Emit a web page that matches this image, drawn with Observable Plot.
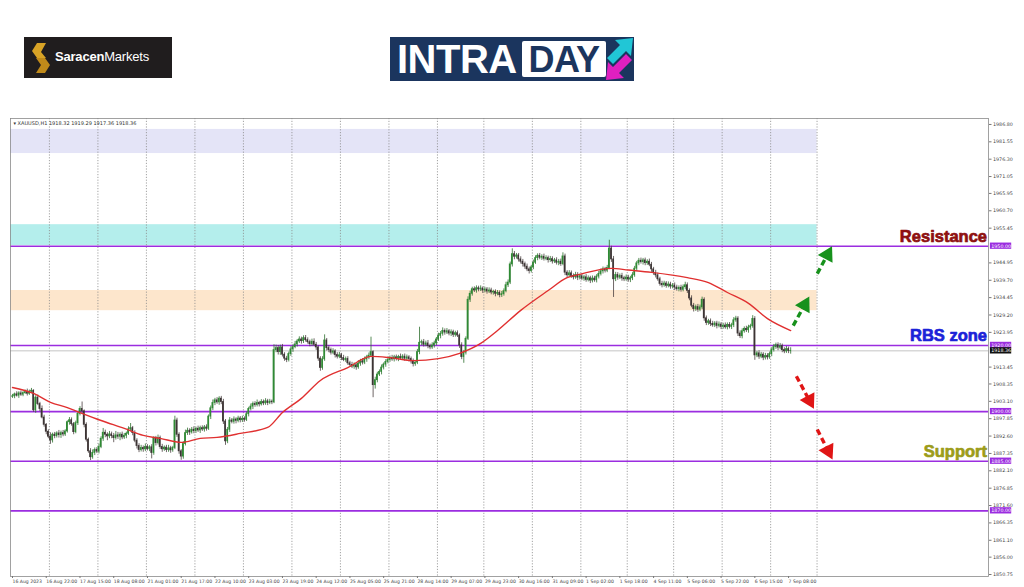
<!DOCTYPE html>
<html><head><meta charset="utf-8">
<script src="https://cdn.jsdelivr.net/npm/d3@7"></script>
<script src="https://cdn.jsdelivr.net/npm/@observablehq/plot@0.6"></script>
<style>
html,body{margin:0;padding:0;background:#fff}
body{width:1024px;height:587px;overflow:hidden;position:relative;font-family:"Liberation Sans",Arial,sans-serif}
#saracen{position:absolute;left:24px;top:37px;width:148px;height:41px;background:#201d1e}
#saracen svg{position:absolute;left:8px;top:6px}
#saracen .t{position:absolute;left:31px;top:12px;color:#fff;font-size:13px;letter-spacing:-0.2px;white-space:nowrap}
#saracen b{font-weight:700}
#intra{position:absolute;left:390px;top:37px;width:244px;height:44px;background:#1b355e;overflow:hidden}
#intra .a{position:absolute;left:7px;top:0px;color:#fff;font-weight:700;font-size:40px;line-height:44px;letter-spacing:-0.5px}
#intra .d{position:absolute;left:132px;top:4px;width:84px;height:36px;background:#fff;border-radius:2px;color:#1b355e;font-weight:700;font-size:36px;line-height:37px;text-align:center;letter-spacing:-0.5px}
#intra svg{position:absolute;left:215px;top:0}
#chart{position:absolute;left:0;top:110px}
</style></head><body>
<div id="saracen"><svg width="18" height="30" viewBox="0 0 18 30"><polygon points="5,0 14,0 9,9 14,15 5,15 0,8" fill="#d8a326"/><polygon points="4,15 13,15 18,22 13,30 4,30 9,22" fill="#c08a1a"/></svg><div class="t"><b>Saracen</b>Markets</div></div>
<div id="intra"><div class="a">INTRA</div><div class="d">DAY</div>
<svg width="29" height="44" viewBox="0 0 29 44"><polygon points="2,21 15,8 10,3 28,1 26,19 21,14 8,27" fill="#21c6d6"/><polygon points="27,23 14,36 19,41 1,43 3,25 8,30 21,17" fill="#e020c0"/></svg></div>
<div id="chart"></div>
<script>
// ---- data ----
const symbol = "XAUUSD,H1";
const firstOpen = 1904.5;
const closes = [
1904.6,1905.2,1904.8,1905.5,1905.1,1905.6,1905.9,1905.4,1906.0,1906.3,
1900.4,1904.2,1902.3,1900.8,1898.2,1896.0,1893.9,1892.4,1891.3,1893.0,
1892.6,1893.4,1892.9,1893.5,1893.1,1894.0,1896.8,1897.4,1896.2,1893.8,
1896.5,1899.3,1900.8,1900.1,1896.0,1891.5,1888.0,1886.2,1887.5,1888.4,
1887.9,1889.3,1891.8,1893.6,1893.0,1892.5,1893.1,1892.6,1892.0,1892.8,
1892.4,1893.0,1892.2,1892.7,1893.3,1894.6,1895.0,1893.5,1891.2,1889.6,
1888.4,1889.0,1888.6,1889.3,1888.7,1889.2,1887.5,1891.8,1890.5,1892.0,
1889.3,1888.6,1889.1,1888.4,1888.9,1888.3,1889.0,1897.3,1893.0,1888.0,
1886.4,1890.2,1893.5,1894.2,1893.7,1894.5,1894.1,1894.8,1894.3,1895.0,
1894.6,1895.2,1894.8,1898.5,1901.0,1902.6,1903.4,1902.8,1903.9,1902.9,
1897.0,1891.0,1894.5,1897.3,1896.9,1897.6,1897.2,1897.9,1897.4,1897.8,
1897.5,1899.2,1900.8,1901.5,1902.3,1902.0,1902.6,1902.2,1902.9,1902.5,
1903.1,1902.6,1903.0,1902.8,1918.6,1919.2,1918.0,1919.4,1917.2,1916.0,
1915.6,1917.4,1918.8,1919.5,1920.3,1921.2,1921.8,1921.3,1922.2,1921.6,
1921.0,1920.4,1921.1,1920.2,1919.4,1916.0,1913.2,1915.8,1921.5,1919.2,
1918.6,1917.8,1918.2,1917.1,1916.6,1917.0,1916.2,1915.6,1915.9,1914.6,
1914.1,1913.6,1914.0,1913.4,1914.5,1915.2,1914.8,1915.8,1916.4,1916.9,
1918.0,1908.0,1909.5,1911.2,1912.0,1913.3,1914.2,1915.0,1915.6,1916.2,
1915.8,1916.4,1916.0,1916.5,1916.1,1916.6,1916.0,1916.4,1915.9,1915.2,
1914.4,1914.8,1918.0,1920.8,1921.0,1920.2,1920.6,1919.8,1919.4,1920.0,
1920.6,1921.8,1922.9,1923.5,1924.4,1923.9,1924.3,1923.6,1924.0,1923.2,
1923.7,1923.0,1920.0,1916.5,1917.8,1922.0,1933.8,1935.6,1937.0,1936.6,
1937.3,1936.9,1937.2,1936.6,1936.9,1936.3,1936.6,1936.0,1936.2,1935.6,
1935.9,1935.2,1935.5,1936.4,1938.2,1939.0,1944.5,1947.6,1946.8,1947.2,
1946.0,1945.3,1944.6,1943.8,1943.0,1942.5,1943.6,1945.0,1946.4,1947.1,
1946.5,1946.8,1946.2,1946.4,1945.8,1946.1,1945.4,1945.7,1945.0,1945.3,
1944.6,1946.9,1942.0,1941.2,1941.8,1941.0,1940.6,1941.3,1940.5,1940.9,
1940.2,1940.6,1939.8,1940.3,1939.6,1940.2,1939.7,1940.8,1941.6,1942.4,
1943.0,1942.6,1943.4,1949.3,1946.0,1940.0,1941.3,1940.5,1941.0,1940.3,
1940.0,1940.5,1939.9,1940.3,1941.2,1943.2,1944.8,1945.6,1945.2,1945.7,
1944.9,1945.3,1944.4,1943.0,1941.9,1941.2,1940.0,1938.6,1938.2,1938.7,
1938.0,1938.4,1937.8,1938.1,1937.5,1937.0,1937.4,1936.8,1937.6,1938.2,
1936.5,1934.2,1932.0,1931.0,1931.6,1930.8,1931.5,1933.8,1928.2,1926.8,
1927.3,1926.5,1926.1,1926.6,1925.9,1926.3,1925.6,1926.0,1925.5,1926.2,
1925.6,1926.1,1927.6,1928.1,1923.6,1922.8,1924.3,1925.0,1924.6,1925.4,
1925.8,1928.0,1917.0,1917.6,1916.6,1917.2,1916.3,1916.8,1916.4,1917.4,
1918.6,1919.5,1920.1,1919.3,1919.8,1918.6,1918.2,1918.9,1918.32,1918.36];
const wickUp = [
.6,.4,.8,.5,.7,.4,.6,.9,.5,.7, .3,.6,.8,.5,.9,.7,.4,.6,1.2,.5, .7,.5,.9,.6,.8,.5,.4,.8,.7,.5,
.6,.5,.7,2.1,.4,.6,.5,.8,.9,.6, .7,.9,.6,1.3,.8,.6,.9,.7,.8,1.2, .9,.6,.8,.7,.5,.8,1.4,.5,.7,.6,
.7,.8,.6,.9,.7,.5,.8,.6,.7,.9, .6,.8,.5,.7,.9,.6,.5,1.3,.7,.6, .5,.7,.9,.8,.6,.7,.9,.5,.8,.6,
.7,.6,.8,.5,.7,.9,.6,.8,.6,.7, .8,.6,.7,.9,.6,.8,.5,.7,.6,.8, .6,.7,.5,.8,.6,.7,.9,.5,.7,.6,
.8,.6,.7,.5,1.6,.9,.8,.7,.9,.6, .7,.6,.8,.7,.9,.6,.8,.7,.7,.8, .7,.6,.8,.9,.7,.5,.6,.8,1.7,.6,
.7,.6,.8,.5,.7,.9,.6,.8,.6,.7, .6,.8,.7,.5,.9,.6,.8,.7,.6,.8, 4.5,.4,.9,.7,.6,.8,.5,.7,.9,.6,
.8,.6,.7,.5,.9,.6,.8,.7,.5,.6, .7,.6,.8,4.7,.6,.8,.7,.9,.6,.8, .7,.6,.8,.7,.9,.6,.8,.5,.7,.6,
.6,.7,.5,.8,.7,.6,.9,.8,.6,.7, .7,.6,.8,.5,.7,.6,.8,.7,.5,.6, .7,.6,.8,.7,.9,.8,.7,1.6,.8,.6,
.6,.8,.7,.6,.8,.7,.6,.8,.7,.6, .7,.6,.8,.7,.6,.8,.7,.6,.8,.7, .8,1.1,.7,.6,.8,.7,.6,.8,.7,.6,
.7,.6,.8,.7,.6,.8,.7,.6,.8,.7, .7,.6,.8,2.5,.7,.9,.8,.7,.6,.8, .6,.8,.7,.6,.8,.7,.6,.7,.8,.6,
.7,.6,.8,.7,.6,.8,.7,.6,.8,.7, .6,.8,.7,.6,.8,.7,.6,.8,.7,.9, .7,.6,.8,.7,.6,.8,.7,.8,.6,.7,
.6,.7,.8,.6,.7,.8,.6,.7,.8,.6, .7,.6,.8,.7,.6,.8,.7,.6,.8,.7, .6,1.0,.7,.6,.8,.7,.6,.8,.7,.6,
.7,.8,.6,.7,.8,.6,.7,.8,.6,.93];
const wickDown = [
.5,.7,.4,.8,.5,.6,.4,.7,.5,.6, .6,.9,.5,.8,.4,.7,.9,.6,1.2,.8, .8,.6,.9,1.0,.7,.6,.5,.9,.6,.8,
.5,.7,.6,.8,.9,.7,.6,1.0,.6,.8, .6,.7,.5,.8,.9,1.3,.7,.8,1.4,.6, .8,1.2,.7,.6,.9,.5,.7,.8,.6,.9,
.8,.6,.9,.7,.6,.8,1.8,.7,.9,.6, .7,.9,.6,.8,.7,.9,.6,.5,.8,.9, 1.1,.8,.6,.7,.9,.5,.8,.7,.6,.9,
.6,.8,.7,.5,.9,.7,.8,.6,.9,.8, .9,1.2,.7,.8,.6,.7,.9,.6,.8,.7, .7,.5,.8,.6,.9,.7,.6,.8,.5,.7,
.6,.8,.5,.7,.4,.8,.9,1.0,.7,.8, .8,.6,.7,.9,.5,.8,.6,.9,.7,.6, .6,.8,.7,.5,.9,.8,1.0,.7,.6,.9,
.8,.7,.6,.9,.7,.6,.8,.5,.7,.6, .7,.6,.8,.9,.6,.8,.7,.6,.9,.7, .4,3.8,1.2,.8,.6,.9,.7,.8,.6,.7,
.6,.8,.7,.9,.6,.5,.8,.7,.9,.8, .9,.7,.6,.8,.9,.7,.6,.8,.7,.6, .8,.7,.6,.9,.7,.8,.6,.7,.9,.8,
.7,.6,.9,.8,1.9,.7,.5,.8,.7,.6, .8,.7,.6,.9,.7,.8,.6,.7,.8,.9, .6,.8,.7,.6,.5,.7,.6,.8,.9,.7,
.8,.7,.9,.8,.7,.9,.6,.7,.5,.8, .6,.8,.7,.6,.9,.7,.8,.6,.7,.9, .7,.5,.9,.8,.6,.7,.8,.6,.9,.7,
.6,.8,.7,.6,.9,.7,.6,.8,.7,.6, .8,.7,.6,.5,.9,5.5,.7,.8,.6,.9, .7,.6,.8,.9,.7,.6,.8,.7,.6,.9,
.8,.7,.6,.9,.7,.8,.6,.7,.8,.6, .7,.6,.8,.7,.9,.6,.8,.7,.6,.8, .8,.7,.6,.9,.7,.8,.6,.7,.9,.8,
.7,.8,.6,.7,.9,.6,.8,.7,.6,.8, .6,.8,.7,.6,.9,.7,.8,.6,.7,.9, .8,.6,1.5,.7,.8,.6,.9,.7,.8,.6,
.8,.6,.7,.9,.6,.8,.7,.6,.8,.96];
// moving average (red line) read at these bar indices
const maIndex = [0,10,18,26,32,42,53,62,70,80,89,97,108,121,128,137,146,159,170,179,190,202,212,222,230,241,254,263,269,284,292,303,320,330,339,349,358,369];
const maValue = [1907.3,1905.5,1902.8,1901.2,1899.7,1897.3,1894.9,1892.8,1891.9,1890.7,1891.9,1892.2,1893.4,1895.2,1899.7,1904.0,1909.4,1913.3,1916.7,1916.3,1915.4,1916.0,1917.6,1920.6,1924.5,1930.6,1936.6,1940.5,1941.5,1943.3,1942.8,1942.1,1940.5,1939.0,1936.0,1932.7,1928.1,1924.5];
// bar index where each trading day starts
const dayStarts = [18,41,64,87,110,133,156,179,202,224,247,270,292,314,337,360,382];
// time axis labels every 16 bars
const timeTickIndex = d3.range(0, 369, 16);
const timeTickLabels = ["16 Aug 2023","16 Aug 22:00","17 Aug 15:00","18 Aug 08:00","21 Aug 01:00","21 Aug 17:00","22 Aug 10:00","23 Aug 03:00","23 Aug 19:00","24 Aug 12:00","25 Aug 05:00","25 Aug 21:00","28 Aug 14:00","29 Aug 07:00","29 Aug 23:00","30 Aug 16:00","31 Aug 09:00","1 Sep 02:00","1 Sep 18:00","4 Sep 11:00","5 Sep 06:00","5 Sep 22:00","6 Sep 15:00","7 Sep 08:00"];
// price axis ticks
const priceTicks = [1986.80,1981.55,1976.30,1971.05,1965.95,1960.70,1955.45,1944.95,1939.70,1934.45,1929.20,1923.95,1913.45,1908.35,1903.10,1897.85,1892.60,1887.35,1882.10,1876.85,1871.60,1866.35,1861.10,1856.00,1850.75];
// horizontal levels
const levels = [1950, 1920, 1900, 1885, 1870];
const bidPrice = 1918.36;
// shaded zones
const zoneLow = [1978.0, 1950.2, 1930.5];
const zoneHigh = [1985.3, 1956.5, 1936.6];
// annotation labels
const noteText = ["Resistance", "RBS zone", "Support"];
const notePrice = [1951.3, 1921.3, 1886.4];
// scenario arrows (bar index, price)
const arrowFromX = [370.2, 381.6, 371.7, 381.6];
const arrowFromY = [1926.0, 1941.7, 1910.7, 1894.6];
const arrowToX = [376.8, 387.5, 379.2, 387.9];
const arrowToY = [1933.6, 1948.7, 1901.8, 1886.7];
const arrowDir = ["up", "up", "down", "down"];

// ---- build ----
const bars = closes.map((c, i) => {
  const o = i === 0 ? firstOpen : closes[i - 1];
  return {i, o, c, h: Math.max(o, c) + wickUp[i], l: Math.min(o, c) - wickDown[i], up: c >= o};
});
const last = bars[bars.length - 1];
const zones = zoneLow.map((lo, k) => ({lo, hi: zoneHigh[k], k}));
const zoneFill = ["#e4e4f7", "#b4eeec", "#fde6cc"];
const noteFill = ["#8e1010", "#1b22d8", "#9c9c1a"];
const notes = noteText.map((t, k) => ({t, p: notePrice[k], k}));

const W = 1024, H = 477, mL = 10, mR = 36, mT = 8, mB = 11;
const xMin = -0.95, xMax = 462.8, yMin = 1850.15, yMax = 1988.6;
const pxPerX = (W - mL - mR) / (xMax - xMin), pxPerY = (H - mT - mB) / (yMax - yMin);
const lerp = (a, b, t) => a + (b - a) * t;
const arrows = arrowFromX.map((x, k) => {
  const d = {x1: x, y1: arrowFromY[k], x2: arrowToX[k], y2: arrowToY[k], dir: arrowDir[k]};
  const dx = (d.x2 - d.x1) * pxPerX, dy = -(d.y2 - d.y1) * pxPerY;
  d.rot = Math.atan2(dx, -dy) * 180 / Math.PI;
  return d;
});
const arrowColor = d => d.dir === "up" ? "#17911c" : "#e01515";

const zoneEnd = dayStarts[dayStarts.length - 1] - 0.5;
const labelMap = new Map(timeTickIndex.map((d, k) => [d, timeTickLabels[k]]));
const levelBoxes = levels.map(v => ({v, label: v.toFixed(2), fill: "#9b2de0"})).concat([{v: bidPrice, label: bidPrice.toFixed(2), fill: "#111"}]);

const chart = Plot.plot({
  width: W, height: H,
  marginLeft: mL, marginRight: mR, marginTop: mT, marginBottom: mB,
  x: {domain: [xMin, xMax], axis: null},
  y: {domain: [yMin, yMax], axis: null},
  style: {background: "transparent", fontFamily: "Tahoma, 'DejaVu Sans', sans-serif"},
  marks: [
    Plot.rect(zones, {x1: xMin, x2: zoneEnd, y1: "lo", y2: "hi", fill: d => zoneFill[d.k]}),
    Plot.ruleX(dayStarts, {x: d => d - 0.5, stroke: "#8c8c8c", strokeWidth: 0.8, strokeDasharray: "1.2,1.6"}),
    Plot.ruleY([bidPrice], {stroke: "#c4c4c4", strokeWidth: 1}),
    Plot.ruleY(levels, {stroke: "#9b2de0", strokeWidth: 1.6}),
    Plot.ruleX(bars, {x: "i", y1: "l", y2: "h", stroke: d => d.up ? "#2d6e2d" : "#4a4040", strokeWidth: 0.8}),
    Plot.rect(bars, {x1: d => d.i - 0.4, x2: d => d.i + 0.4, y1: d => Math.min(d.o, d.c) - 0.12, y2: d => Math.max(d.o, d.c) + 0.12, fill: d => d.up ? "#2f8a34" : "#3c3434"}),
    Plot.line(maIndex.map((x, k) => ({x, y: maValue[k]})), {x: "x", y: "y", stroke: "#e03030", strokeWidth: 1.4, curve: "monotone-x"}),
    Plot.link(arrows, {x1: "x1", y1: "y1", x2: d => lerp(d.x1, d.x2, 0.78), y2: d => lerp(d.y1, d.y2, 0.78), stroke: arrowColor, strokeWidth: 3.4, strokeDasharray: "6,3.5"}),
    Plot.dot(arrows, {x: d => lerp(d.x1, d.x2, 0.82), y: d => lerp(d.y1, d.y2, 0.82), symbol: "triangle", r: 6.2, rotate: "rot", fill: arrowColor, stroke: "none"}),
    Plot.text(notes, {x: xMax, y: "p", text: "t", textAnchor: "end", lineAnchor: "bottom", dx: -1.5, fill: d => noteFill[d.k], stroke: d => noteFill[d.k], strokeWidth: 0.7, fontSize: 16.5, fontWeight: 900, fontFamily: "'Liberation Sans', Arial, sans-serif"}),
    Plot.frame({stroke: "#8a8a8a", strokeWidth: 0.8}),
    Plot.axisY(priceTicks, {anchor: "right", tickFormat: d => d.toFixed(2), fontSize: 4.8, tickSize: 2.5, tickPadding: 2, fill: "#444", stroke: "#777", label: null}),
    Plot.rect(levelBoxes, {x1: xMax + 0.9, x2: xMax + 11.0, y1: d => d.v - 0.95, y2: d => d.v + 0.95, fill: "fill"}),
    Plot.text(levelBoxes, {x: xMax + 1.3, y: "v", text: "label", textAnchor: "start", fill: "#fff", fontSize: 4.8}),
    Plot.axisX(timeTickIndex, {anchor: "bottom", tickFormat: d => labelMap.get(d), fontSize: 4.6, tickSize: 2, tickPadding: 1, textAnchor: "start", dx: 0, fill: "#444", stroke: "#777", label: null}),
    Plot.text([last], {frameAnchor: "top-left", dx: 3, dy: 2.5, text: d => `\u25BE ${symbol} ${d.o.toFixed(2)} ${d.h.toFixed(2)} ${d.l.toFixed(2)} ${d.c.toFixed(2)}`, fontSize: 5, fill: "#333"})
  ]
});
document.getElementById("chart").appendChild(chart);
</script>
</body></html>
